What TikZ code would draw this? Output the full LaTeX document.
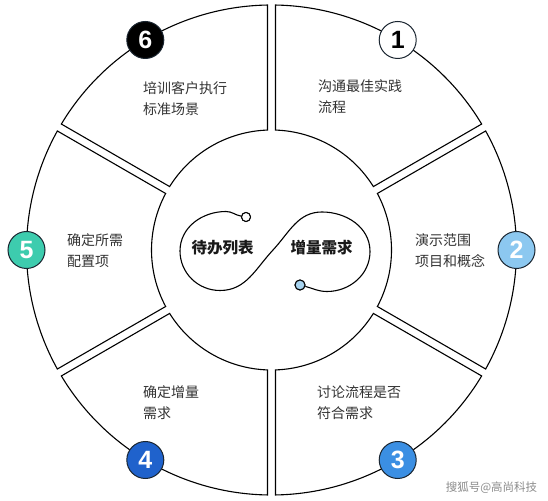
\documentclass[tikz,border=0pt]{standalone}
\usepackage{fontspec}
\setmainfont{Liberation Sans}
\newfontfamily\cjk{Noto Sans CJK SC}
\newfontfamily\numfont{Liberation Sans}
\definecolor{txtgray}{HTML}{333333}
\definecolor{bdark}{HTML}{1A2530}
\definecolor{cLight}{HTML}{8CC8F0}
\definecolor{cMid}{HTML}{3B8FE3}
\definecolor{cDeep}{HTML}{1F62CC}
\definecolor{cTeal}{HTML}{3DCCAE}
\definecolor{cDot}{HTML}{A8D4F0}
\begin{document}
\begin{tikzpicture}[x=1pt,y=1pt,
  seg/.style={draw=black, line width=1.1pt, fill=white, line join=miter},
  badge/.style={circle, minimum size=37pt, inner sep=0pt, draw=bdark, line width=1pt,
    font=\numfont\bfseries\fontsize{25}{25}\selectfont},
  lbl/.style={anchor=west, align=left, inner sep=0pt, text=txtgray,
    font=\cjk\fontsize{14}{21}\selectfont},
  ctr/.style={inner sep=0pt, text=black!90, font=\cjk\bfseries\fontsize{15.5}{18}\selectfont},
  inf/.style={draw=black, line width=1.1pt},
  dot/.style={circle, draw=black, line width=1pt, inner sep=0pt}
]
\useasboundingbox (0,0) rectangle (548,500);
\fill[white] (0,0) rectangle (548,500);

% ring segments
\foreach \c in {60,0,-60,-120,180,120} {
  \draw[seg, shift={(271.5,250)}]
    ({\c+30-0.935}:245) arc[start angle={\c+30-0.935}, end angle={\c-30+0.935}, radius=245]
    -- ({\c-30+1.91}:120) arc[start angle={\c-30+1.91}, end angle={\c+30-1.91}, radius=120]
    -- cycle;
}

% badges
\node[badge, fill=white, text=black] (b1) at (397.7,460) {1};
\node[badge, fill=cLight, text=white] (b2) at (516.5,250) {2};
\node[badge, fill=cMid, text=white] (b3) at (397.7,40) {3};
\node[badge, fill=cDeep, text=white] (b4) at (145.3,40) {4};
\node[badge, fill=cTeal, text=white] (b5) at (26.5,250) {5};
\node[badge, fill=black, text=white] (b6) at (145.3,460) {6};

% labels
\node[lbl] (t1) at (318,403) {沟通最佳实践\\流程};
\node[lbl] (t2) at (415,249.5) {演示范围\\项目和概念};
\node[lbl] (t3) at (317,97) {讨论流程是否\\符合需求};
\node[lbl] (t4) at (143,97) {确定增量\\需求};
\node[lbl] (t5) at (67,249.5) {确定所需\\配置项};
\node[lbl] (t6) at (143,401) {培训客户执行\\标准场景};

% infinity
\node[dot, fill=white, minimum size=9pt] (oc) at (246,283) {};
\node[dot, fill=cDot, minimum size=10pt] (bc) at (300,215) {};
\coordinate (B) at (226,288.5);
\coordinate (C) at (180,249);
\coordinate (D) at (220,209.5);
\coordinate (E) at (273,250);
\coordinate (F) at (322,288);
\coordinate (G) at (370,248.5);
\coordinate (H) at (327,208.5);
\draw[inf] (oc.170) to[out=170,in=0] (B) to[out=180,in=90] (C)
  to[out=-90,in=180] (D) to[out=0,in=227] (E) to[out=47,in=180] (F)
  to[out=0,in=90] (G) to[out=-90,in=0] (H) to[out=180,in=-15] (bc.-15);
\node[dot, fill=white, minimum size=9pt] at (oc) {};
\node[dot, fill=cDot, minimum size=10pt] at (bc) {};

\node[ctr] (c1) at (222.5,252.5) {待办列表};
\node[ctr] (c2) at (321.7,252.5) {增量需求};

% watermark
\node[inner sep=0pt, text=black!45, font=\cjk\fontsize{11.5}{12}\selectfont] (wm) at (491.5,12) {搜狐号@高尚科技};
\end{tikzpicture}
\end{document}
